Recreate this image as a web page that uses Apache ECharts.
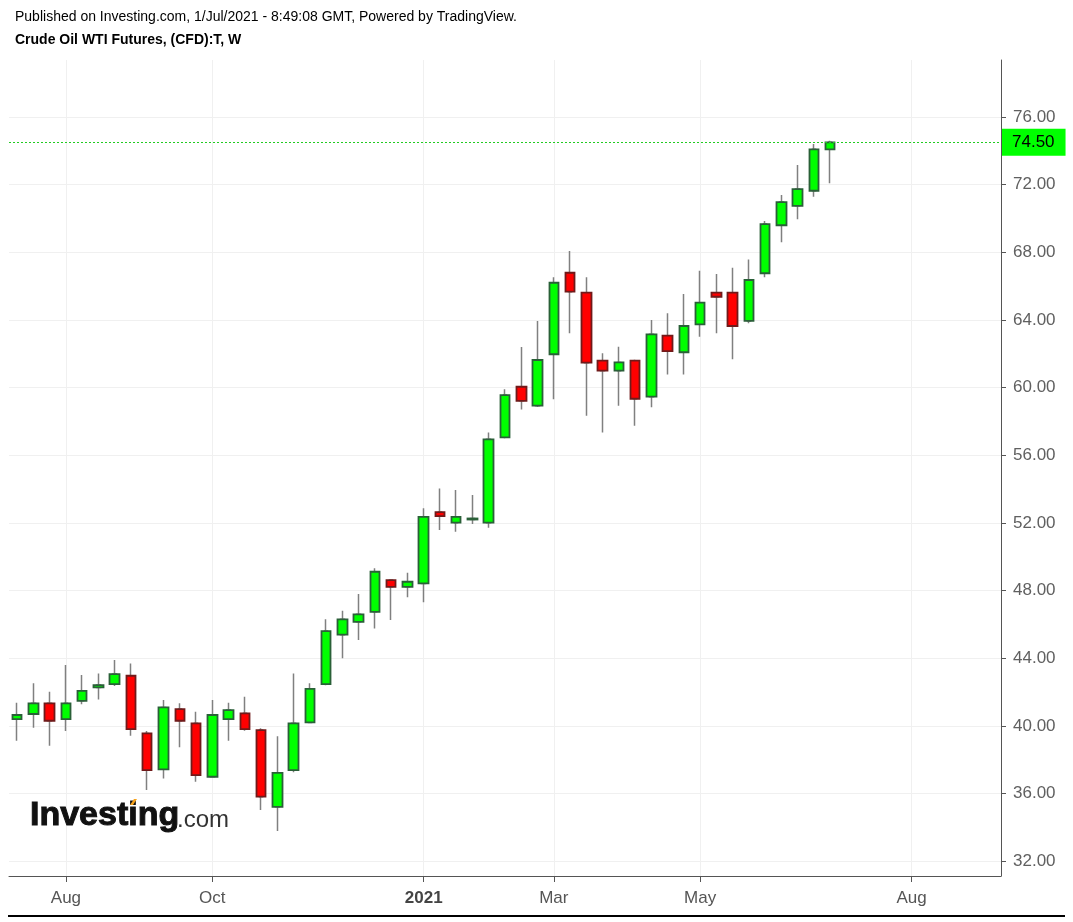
<!DOCTYPE html>
<html>
<head>
<meta charset="utf-8">
<script src="https://cdn.jsdelivr.net/npm/echarts@6/dist/echarts.min.js"></script>
<style>
html,body{margin:0;padding:0;background:#fff;}
#chart{width:1073px;height:922px;}
</style>
</head>
<body>
<div id="chart"></div>
<script>
// Weekly bars (Monday dates), including empty future weeks to the right
const weeks = [
  '2020-07-13','2020-07-20','2020-07-27','2020-08-03','2020-08-10','2020-08-17','2020-08-24','2020-08-31',
  '2020-09-07','2020-09-14','2020-09-21','2020-09-28','2020-10-05','2020-10-12','2020-10-19','2020-10-26',
  '2020-11-02','2020-11-09','2020-11-16','2020-11-23','2020-11-30','2020-12-07','2020-12-14','2020-12-21',
  '2020-12-28','2021-01-04','2021-01-11','2021-01-18','2021-01-25','2021-02-01','2021-02-08','2021-02-15',
  '2021-02-22','2021-03-01','2021-03-08','2021-03-15','2021-03-22','2021-03-29','2021-04-05','2021-04-12',
  '2021-04-19','2021-04-26','2021-05-03','2021-05-10','2021-05-17','2021-05-24','2021-05-31','2021-06-07',
  '2021-06-14','2021-06-21','2021-06-28','2021-07-05','2021-07-12','2021-07-19','2021-07-26','2021-08-02',
  '2021-08-09','2021-08-16','2021-08-23','2021-08-30','2021-09-06'
];

const opens  = [40.40,40.70,41.33,40.40,41.48,42.27,42.47,42.96,39.55,37.43,40.99,40.15,36.99,40.40,40.74,39.75,
                35.21,37.38,40.20,42.47,45.39,46.15,46.74,48.62,48.22,48.42,52.64,52.01,52.20,52.01,57.06,60.05,
                58.93,61.97,66.79,65.61,61.59,61.00,61.59,59.46,63.07,62.09,63.74,65.61,65.61,63.94,66.76,69.60,
                70.75,71.64,74.09];
const closes = [40.64,41.33,40.30,41.33,42.07,42.41,43.06,39.81,37.38,41.09,40.30,37.09,40.64,40.93,39.81,35.81,
                37.22,40.15,42.19,45.60,46.30,46.59,49.11,48.22,48.52,52.36,52.40,52.36,52.26,56.94,59.56,59.22,
                61.63,66.20,65.67,61.47,61.00,61.49,59.34,63.15,62.16,63.64,65.02,65.37,63.64,66.36,69.67,70.97,
                71.74,74.09,74.50];
const lows   = [39.12,39.89,38.82,39.69,41.27,41.56,42.35,39.41,36.20,36.89,38.73,36.69,36.95,39.12,39.71,35.02,
                33.78,37.25,40.15,42.40,43.99,45.07,45.76,46.25,47.60,47.30,51.58,51.48,51.93,51.71,57.00,58.71,
                58.85,59.31,63.21,58.34,57.35,58.93,57.74,58.83,60.78,60.78,63.01,63.21,61.67,63.80,66.52,68.59,
                69.95,71.29,72.08];
const highs  = [41.36,42.51,42.01,43.59,43.00,43.10,43.89,43.69,39.69,41.52,41.33,40.83,41.52,41.36,41.72,39.85,
                39.39,43.10,42.51,46.30,46.80,47.79,49.31,48.66,49.05,52.86,54.04,53.94,53.65,57.35,59.90,62.40,
                63.94,66.52,68.08,66.52,62.03,62.42,61.65,64.00,64.39,65.53,66.91,66.72,67.09,67.58,69.85,71.39,
                73.16,74.40,74.60];

const lastPrice = 74.50;
const yTicks = [32,36,40,44,48,52,56,60,64,68,72,76];
const xTickWeeks  = ['2020-08-03','2020-10-05','2021-01-04','2021-03-01','2021-05-03','2021-08-02'];
const xTickLabels = ['Aug','Oct','2021','Mar','May','Aug'];

const fullData = opens.map((o, i) => [o, closes[i], lows[i], highs[i]]);
const bodyData = opens.map((o, i) => [o, closes[i], Math.min(o, closes[i]), Math.max(o, closes[i])]);
const isTick = (idx, val) => xTickWeeks.indexOf(val) >= 0;

const chart = echarts.init(document.getElementById('chart'), null, {renderer: 'canvas'});
chart.setOption({
  animation: false,
  backgroundColor: '#ffffff',
  textStyle: {fontFamily: 'Arial, "Liberation Sans", sans-serif'},
  grid: {left: 9, right: 72, top: 60, bottom: 46, containLabel: false},
  xAxis: {
    type: 'category',
    data: weeks,
    boundaryGap: true,
    axisLine: {show: true, lineStyle: {color: '#555', width: 1}},
    axisTick: {show: true, interval: isTick, alignWithLabel: true, length: 6, lineStyle: {color: '#555'}},
    axisLabel: {
      interval: isTick,
      margin: 14,
      color: '#555',
      fontSize: 17,
      formatter: v => {
        const k = xTickWeeks.indexOf(v);
        if (k < 0) return '';
        const t = xTickLabels[k];
        return /^\d{4}$/.test(t) ? '{b|' + t + '}' : t;
      },
      rich: {b: {fontWeight: 'bold', fontSize: 17, color: '#444'}}
    },
    splitLine: {show: true, interval: isTick, alignWithLabel: true, lineStyle: {color: '#f0f0f0', width: 1}}
  },
  yAxis: {
    type: 'value',
    position: 'right',
    min: 31.12,
    max: 79.37,
    axisLine: {show: true, lineStyle: {color: '#555', width: 1}},
    axisTick: {show: true, length: 5, customValues: yTicks, lineStyle: {color: '#555'}},
    axisLabel: {customValues: yTicks, formatter: v => Number(v).toFixed(2), color: '#606060', fontSize: 17, margin: 12},
    splitLine: {show: true, lineStyle: {color: '#f0f0f0', width: 1}}
  },
  series: [
    {
      name: 'wicks',
      type: 'candlestick',
      data: fullData,
      barWidth: 4,
      z: 2,
      itemStyle: {
        color: 'rgba(0,0,0,0)', color0: 'rgba(0,0,0,0)',
        borderColor: '#808080', borderColor0: '#808080', borderColorDoji: '#808080',
        borderWidth: 1.5
      },
      silent: true
    },
    {
      name: 'bodies',
      type: 'candlestick',
      data: bodyData,
      barWidth: 10,
      z: 3,
      itemStyle: {
        color: '#00ff00', color0: '#ff0000',
        borderColor: '#2a6038', borderColor0: '#701a1a', borderColorDoji: '#2a6038',
        borderWidth: 1.8
      },
      silent: true,
      markLine: {
        silent: true,
        symbol: 'none',
        animation: false,
        lineStyle: {color: '#22cc22', type: [2, 2], width: 1},
        label: {
          show: true,
          position: 'end',
          distance: 1,
          formatter: () => lastPrice.toFixed(2),
          backgroundColor: '#00ff00',
          color: '#000',
          fontSize: 17,
          padding: [5, 11, 5, 10]
        },
        data: [{yAxis: lastPrice}]
      }
    }
  ],
  graphic: [
    {type: 'text', x: 15, y: 17, style: {text: 'Published on Investing.com, 1/Jul/2021 - 8:49:08 GMT, Powered by TradingView.', font: '14px Arial', fill: '#000', verticalAlign: 'middle'}},
    {type: 'text', x: 15, y: 40, style: {text: 'Crude Oil WTI Futures, (CFD):T, W', font: 'bold 14px Arial', fill: '#000', verticalAlign: 'middle'}},
    {type: 'text', x: 30, y: 816, z: 10, style: {text: 'Investing', font: 'bold 34px Arial', fill: '#111', stroke: '#111', lineWidth: 1, verticalAlign: 'middle'}},
    {type: 'text', x: 177, y: 820, z: 10, style: {text: '.com', font: '24px Arial', fill: '#333', verticalAlign: 'middle'}},
    {type: 'polygon', z: 11, shape: {points: [[130, 805], [134, 799], [137, 799], [133, 805]]}, style: {fill: '#f7a21b'}},
    {type: 'line', z: 10, shape: {x1: 8, y1: 916, x2: 1065, y2: 916}, style: {stroke: '#000', lineWidth: 2}}
  ]
});
</script>
</body>
</html>
